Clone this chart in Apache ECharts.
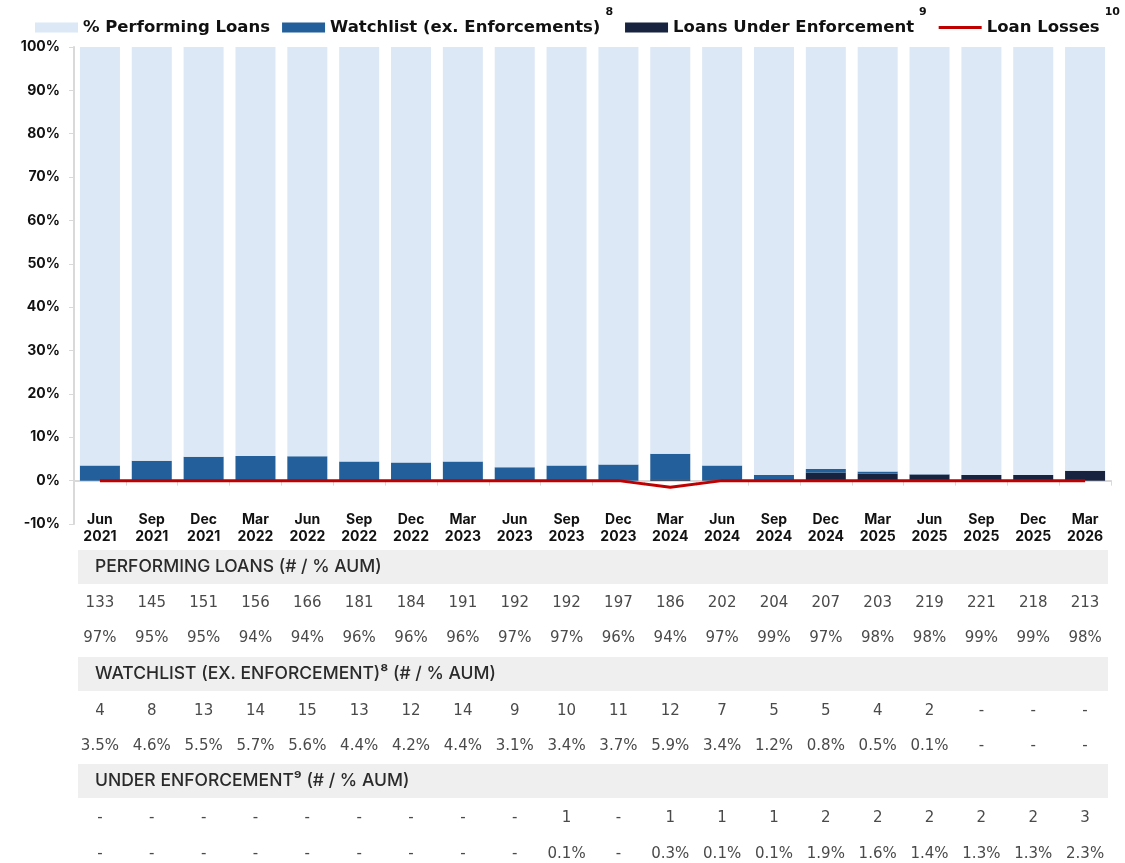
<!DOCTYPE html>
<html>
<head>
<meta charset="utf-8">
<script src="https://cdn.jsdelivr.net/npm/echarts@6/dist/echarts.min.js"></script>
<style>
  html, body { margin: 0; padding: 0; background: #fff; }
  #chart { width: 1125px; height: 863px; }
</style>
</head>
<body>
<div id="chart"></div>
<script>
const categories = ['Jun\n2021','Sep\n2021','Dec\n2021','Mar\n2022','Jun\n2022','Sep\n2022','Dec\n2022','Mar\n2023','Jun\n2023','Sep\n2023',
  'Dec\n2023','Mar\n2024','Jun\n2024','Sep\n2024','Dec\n2024','Mar\n2025','Jun\n2025','Sep\n2025','Dec\n2025','Mar\n2026'];
const performingCount = [133,145,151,156,166,181,184,191,192,192,197,186,202,204,207,203,219,221,218,213];
const performingPct = [97,95,95,94,94,96,96,96,97,97,96,94,97,99,97,98,98,99,99,98];
const watchCount = [4,8,13,14,15,13,12,14,9,10,11,12,7,5,5,4,2,null,null,null];
const watchPct = [3.5,4.6,5.5,5.7,5.6,4.4,4.2,4.4,3.1,3.4,3.7,5.9,3.4,1.2,0.8,0.5,0.1,null,null,null];
const enfCount = [null,null,null,null,null,null,null,null,null,1,null,1,1,1,2,2,2,2,2,3];
const enfPct = [null,null,null,null,null,null,null,null,null,0.1,null,0.3,0.1,0.1,1.9,1.6,1.4,1.3,1.3,2.3];
const lossPct = [0,0,0,0,0,0,0,0,0,0,0,-1.5,0,0,0,0,0,0,0,0];

const FONT = 'Inter, "Noto Sans", sans-serif';
const WIDE = '"DejaVu Sans", Inter, sans-serif';
const GRID_BOTTOM_Y = 524;

// bar for the performing share fills the column up to 100%
const performingBar = categories.map((c, i) => 100 - (watchPct[i] || 0) - (enfPct[i] || 0));

// table rows drawn as extra label-only x axes aligned to the columns
const tableRows = [
  { values: performingCount, y: 603, fmt: v => String(v) },
  { values: performingPct, y: 638, fmt: v => v + '%' },
  { values: watchCount, y: 711, fmt: v => String(v) },
  { values: watchPct, y: 746, fmt: v => v + '%' },
  { values: enfCount, y: 818, fmt: v => String(v) },
  { values: enfPct, y: 854, fmt: v => v + '%' }
];
const headers = [
  { text: 'PERFORMING LOANS (# / % AUM)', y: 550 },
  { text: 'WATCHLIST (EX. ENFORCEMENT)⁸ (# / % AUM)', y: 657 },
  { text: 'UNDER ENFORCEMENT⁹ (# / % AUM)', y: 764 }
];

const xAxes = [{
  type: 'category',
  data: categories,
  axisLine: { onZero: true, lineStyle: { color: '#d9d9d9', width: 2 } },
  axisTick: { show: true, length: 5, lineStyle: { color: '#d9d9d9' } },
  axisLabel: { show: false }
}, {
  // period labels under the plot
  type: 'category',
  data: categories,
  position: 'bottom',
  offset: 4,
  axisLine: { show: false, onZero: false },
  axisTick: { show: false },
  axisLabel: { interval: 0, margin: 0, verticalAlign: 'middle', color: '#111', fontFamily: FONT, fontWeight: 'bold', fontSize: 14, lineHeight: 17 }
}];
tableRows.forEach(r => {
  xAxes.push({
    type: 'category',
    data: categories,
    position: 'bottom',
    offset: r.y - GRID_BOTTOM_Y,
    axisLine: { show: false, onZero: false },
    axisTick: { show: false },
    axisLabel: {
      interval: 0, margin: 0, verticalAlign: 'middle',
      color: '#4a4a4a', fontFamily: WIDE, fontSize: 15,
      formatter: (v, i) => (r.values[i] == null ? '-' : r.fmt(r.values[i]))
    }
  });
});

const legendRich = {
  t: { fontFamily: WIDE, fontWeight: 'bold', fontSize: 16.5, color: '#111' },
  s: { fontFamily: WIDE, fontWeight: 'bold', fontSize: 11, color: '#111', padding: [0, 0, 30, 5] }
};
const sup = { 'Watchlist (ex. Enforcements)': '8', 'Loans Under Enforcement': '9', 'Loan Losses': '10' };

const chart = echarts.init(document.getElementById('chart'));
chart.setOption({
  animation: false,
  textStyle: { fontFamily: FONT },
  legend: {
    top: 7, left: 35, width: 1090, padding: 0,
    itemWidth: 43, itemHeight: 10, itemGap: 12,
    icon: 'rect',
    data: ['% Performing Loans', 'Watchlist (ex. Enforcements)', 'Loans Under Enforcement',
      { name: 'Loan Losses', icon: 'path://M0,4 L40,4 L40,6.6 L0,6.6 Z' }],
    formatter: n => '{t|' + n + '}' + (sup[n] ? '{s|' + sup[n] + '}' : ''),
    textStyle: { rich: legendRich }
  },
  grid: { left: 74, right: 14, top: 47, bottom: 863 - GRID_BOTTOM_Y, containLabel: false },
  xAxis: xAxes,
  yAxis: {
    type: 'value', min: -10, max: 100, interval: 10,
    axisLine: { show: true, lineStyle: { color: '#d9d9d9', width: 2 } },
    axisTick: { show: true, length: 5, lineStyle: { color: '#d9d9d9' } },
    splitLine: { show: false },
    axisLabel: { margin: 14, color: '#111', fontFamily: FONT, fontWeight: 'bold', fontSize: 14, formatter: '{value}%' }
  },
  graphic: headers.flatMap(h => [
    { type: 'rect', shape: { x: 78, y: h.y, width: 1030, height: 34 }, style: { fill: '#efefef' }, z: -1 },
    { type: 'text', x: 95, y: h.y + 17, style: { text: h.text, fill: '#2a2a2a', font: '500 17.5px ' + FONT, verticalAlign: 'middle' } }
  ]),
  series: [
    { name: 'Loans Under Enforcement', type: 'bar', stack: 'a', barWidth: 40, itemStyle: { color: '#17233f' },
      data: enfPct.map(v => v || 0) },
    { name: 'Watchlist (ex. Enforcements)', type: 'bar', stack: 'a', barWidth: 40, itemStyle: { color: '#23609b' },
      data: watchPct.map(v => v || 0) },
    { name: '% Performing Loans', type: 'bar', stack: 'a', barWidth: 40, itemStyle: { color: '#dce8f5' },
      data: performingBar },
    { name: 'Loan Losses', type: 'line', symbol: 'none', z: 5, lineStyle: { color: '#c00000', width: 3 },
      itemStyle: { color: '#c00000' }, data: lossPct }
  ]
});
</script>
</body>
</html>
